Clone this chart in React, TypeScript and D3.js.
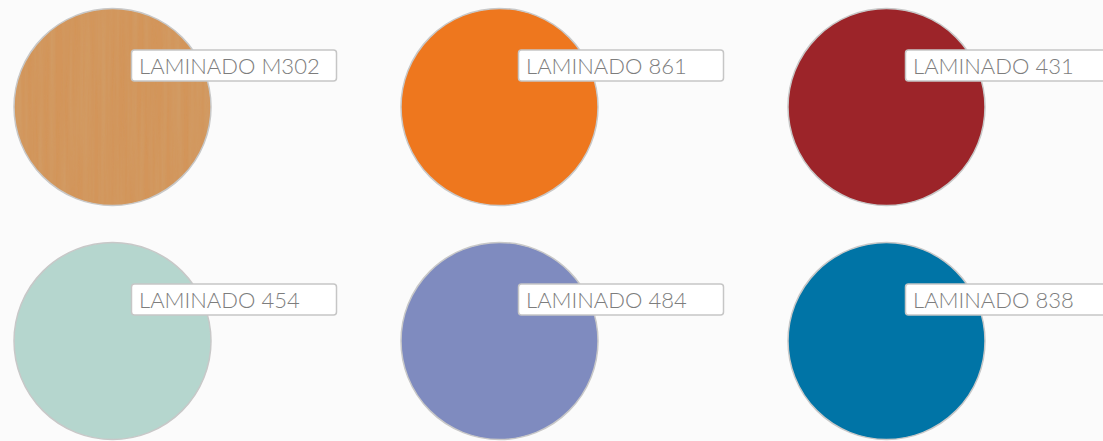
import * as d3 from "d3";

const labels = ["LAMINADO M302", "LAMINADO 861", "LAMINADO 431", "LAMINADO 454", "LAMINADO 484", "LAMINADO 838"];
const swatchColors = ["#d3955a", "#ee771e", "#9c2429", "#b5d6ce", "#7f8bbf", "#0074a6"];
const textured = [true, false, false, false, false, false];

const width = 1103;
const height = 441;
const cols = 3;

export default function App() {
  const x = d3.scalePoint<number>().domain(d3.range(cols)).range([112.5, 886.5]);
  const y = d3.scalePoint<number>().domain(d3.range(Math.ceil(labels.length / cols))).range([107, 341]);
  const r = 98.5;

  return (
    <svg
      width={width}
      height={height}
      style={{ position: "absolute", left: 0, top: 0 }}
      fontFamily="Lato, 'Open Sans', sans-serif"
    >
      <defs>
        {/* faint vertical wood grain for the M302 swatch */}
        <filter id="grain" x="0" y="0" width="1" height="1">
          <feTurbulence type="fractalNoise" baseFrequency="0.18 0.006" numOctaves="3" seed="4" result="noise" />
          <feColorMatrix
            in="noise"
            type="matrix"
            values="0 0 0 0 0.62  0 0 0 0 0.4  0 0 0 0 0.2  0.5 0 0 0 -0.15"
            result="tint"
          />
          <feComposite in="tint" in2="SourceGraphic" operator="in" result="streaks" />
          <feMerge>
            <feMergeNode in="SourceGraphic" />
            <feMergeNode in="streaks" />
          </feMerge>
        </filter>
      </defs>
      <rect width={width} height={height} fill="#fbfbfb" />
      {labels.map((label, i) => {
        const cx = x(i % cols)!;
        const cy = y(Math.floor(i / cols))!;
        return (
          <g key={label}>
            <circle cx={cx} cy={cy} r={r} fill={swatchColors[i]} filter={textured[i] ? "url(#grain)" : undefined} />
            <circle cx={cx} cy={cy} r={r} fill="none" stroke="#c8c8c8" strokeWidth={1.5} />
            <rect x={cx + 19} y={cy - 57} width={205} height={31} rx={3} fill="#fff" stroke="#c6c6c6" strokeWidth={1.5} />
            <text x={cx + 26.5} y={cy - 33} fontSize={22} fontWeight={300} fill="#7d7d7d">
              {label}
            </text>
          </g>
        );
      })}
    </svg>
  );
}
